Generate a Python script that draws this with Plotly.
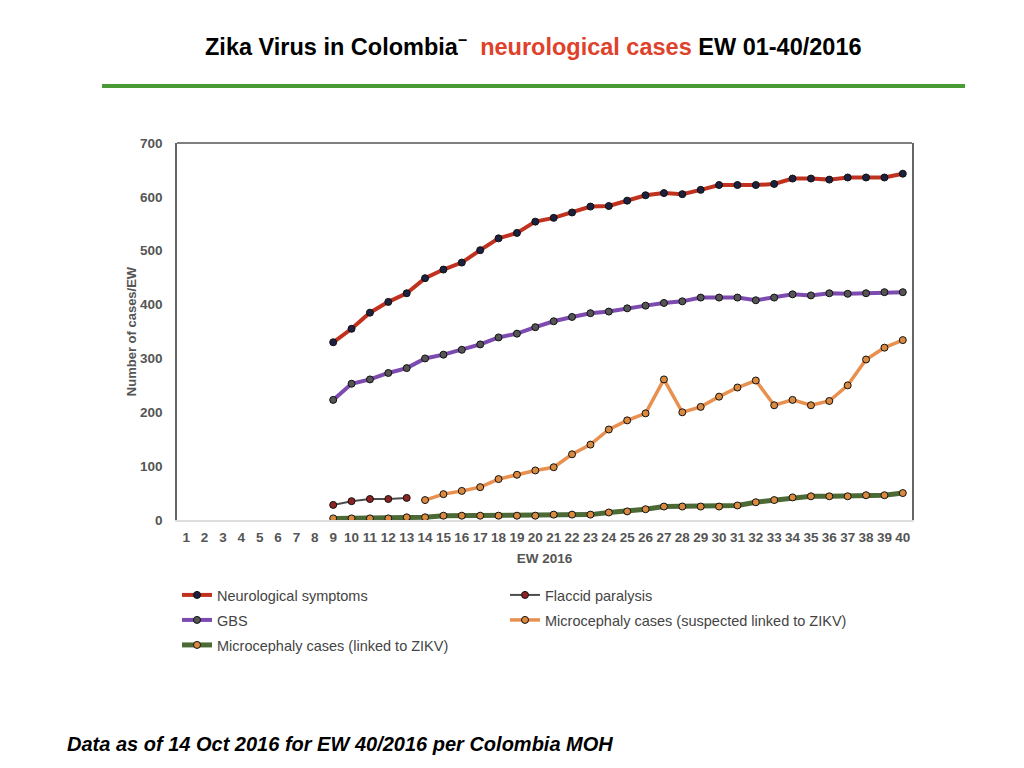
import plotly.graph_objects as go

# Semaines épidémiologiques (EW) 1 à 40
semaines = list(range(1, 41))

# Valeurs (None = pas de donnée)
neuro = [None] * 8 + [330, 355, 385, 405, 421, 449, 465, 478, 501, 523, 533, 554, 561,
                      571, 582, 583, 593, 603, 607, 605, 613, 622, 622, 622, 624, 634,
                      634, 632, 636, 636, 636, 643]
flaccide = [None] * 8 + [28, 35, 39, 39, 41] + [None] * 27
gbs = [None] * 8 + [223, 253, 261, 273, 282, 300, 307, 316, 326, 339, 346, 358, 369,
                    377, 384, 387, 393, 398, 403, 406, 413, 413, 413, 408, 413, 419,
                    417, 421, 420, 421, 423, 423]
micro_suspect = [None] * 13 + [37, 48, 54, 61, 76, 84, 92, 98, 122, 140, 168, 185, 198,
                               261, 200, 210, 229, 246, 259, 213, 223, 213, 221, 250,
                               298, 320, 334]
micro_lie = [None] * 8 + [3, 3, 3, 3, 5, 5, 8, 8, 8, 8, 8, 8, 10, 10, 10, 14, 16, 20,
                          25, 25, 25, 25, 27, 33, 37, 42, 44, 44, 44, 46, 46, 50]

# nom, valeurs, couleur ligne, épaisseur, couleur point, légende
series = [
    ('Neurological symptoms', neuro, '#c0321f', 4, '#1c2140', 'legend'),
    ('Flaccid paralysis', flaccide, '#4d4d4d', 2, '#8e2323', 'legend2'),
    ('GBS', gbs, '#7d4bb0', 4, '#555555', 'legend3'),
    ('Microcephaly cases (suspected linked to ZIKV)', micro_suspect, '#e8904f', 3.5, '#d98a40', 'legend4'),
    ('Microcephaly cases (linked to ZIKV)', micro_lie, '#4b6a36', 5, '#d98a40', 'legend5'),
]

fig = go.Figure()
for nom, valeurs, couleur, largeur, couleur_point, leg in series:
    fig.add_trace(go.Scatter(
        x=semaines, y=valeurs, name=nom, mode='lines+markers',
        line=dict(color=couleur, width=largeur),
        marker=dict(size=7, color=couleur_point, line=dict(color='#111111', width=1)),
        connectgaps=False, legend=leg,
    ))

gris = '#555555'
police = 'Liberation Sans, Arial, sans-serif'
police_leg = dict(family=police, size=14.5, color='#444444')
base_leg = dict(orientation='h', xanchor='left', yanchor='middle',
                font=police_leg, bgcolor='rgba(0,0,0,0)', itemwidth=30)

col1 = 0.0
col2 = (505 - 177) / 735
ligne = lambda py: 1 - (py - 143) / 377

# zone de tracé : 735 x 377 px
fig.update_layout(
    width=1008, height=752,
    paper_bgcolor='white', plot_bgcolor='white',
    margin=dict(l=169, r=104, t=135, b=240),
    font=dict(family=police, color=gris),
    showlegend=True,
    legend=dict(base_leg, x=col1, y=ligne(595)),
    legend2=dict(base_leg, x=col2, y=ligne(595)),
    legend3=dict(base_leg, x=col1, y=ligne(620)),
    legend4=dict(base_leg, x=col2, y=ligne(620)),
    legend5=dict(base_leg, x=col1, y=ligne(645)),
    xaxis=dict(
        range=[0.5, 40.5], tick0=1, dtick=1, showgrid=False, zeroline=False,
        showline=True, linecolor='#dddddd', linewidth=1.5, ticks='',
        ticklabelstandoff=4,
        tickfont=dict(size=13.5, color=gris, family=police, weight='bold'),
        title=dict(text='<b>EW 2016</b>', font=dict(size=13.5, color=gris), standoff=10),
    ),
    yaxis=dict(
        range=[0, 700], dtick=100, showgrid=False, zeroline=False,
        showline=True, linecolor='#666666', linewidth=1.5, mirror=True, ticks='',
        ticklabelstandoff=10,
        tickfont=dict(size=13.5, color=gris, family=police, weight='bold'),
        title=dict(text='<b>Number of cases/EW</b>', font=dict(size=13, color=gris), standoff=0),
    ),
    shapes=[
        # bord supérieur du cadre
        dict(type='line', xref='paper', yref='paper', x0=0, x1=1, y0=1, y1=1,
             line=dict(color='#555555', width=1.5)),
        # trait vert sous le titre
        dict(type='line', xref='paper', yref='paper',
             x0=(102 - 177) / 735, x1=(965 - 177) / 735,
             y0=1 + (143 - 86) / 377, y1=1 + (143 - 86) / 377,
             line=dict(color='#4a9a35', width=4)),
    ],
    annotations=[
        dict(text='<b>Zika Virus in Colombia<sup>–</sup>  <span style="color:#e0412b">neurological cases</span> EW 01-40/2016</b>',
             xref='paper', yref='paper', x=(533 - 177) / 735, y=1 + (143 - 45) / 377,
             xanchor='center', yanchor='middle', showarrow=False,
             font=dict(size=23.5, color='black', family=police)),
        dict(text='<b><i>Data as of 14 Oct 2016 for EW 40/2016 per Colombia MOH</i></b>',
             xref='paper', yref='paper', x=(65 - 177) / 735, y=1 - (744 - 143) / 377,
             xanchor='left', yanchor='middle', showarrow=False,
             font=dict(size=20, color='black', family=police)),
    ],
)

fig.write_html('out.html')
print('out.html généré avec succès !')
